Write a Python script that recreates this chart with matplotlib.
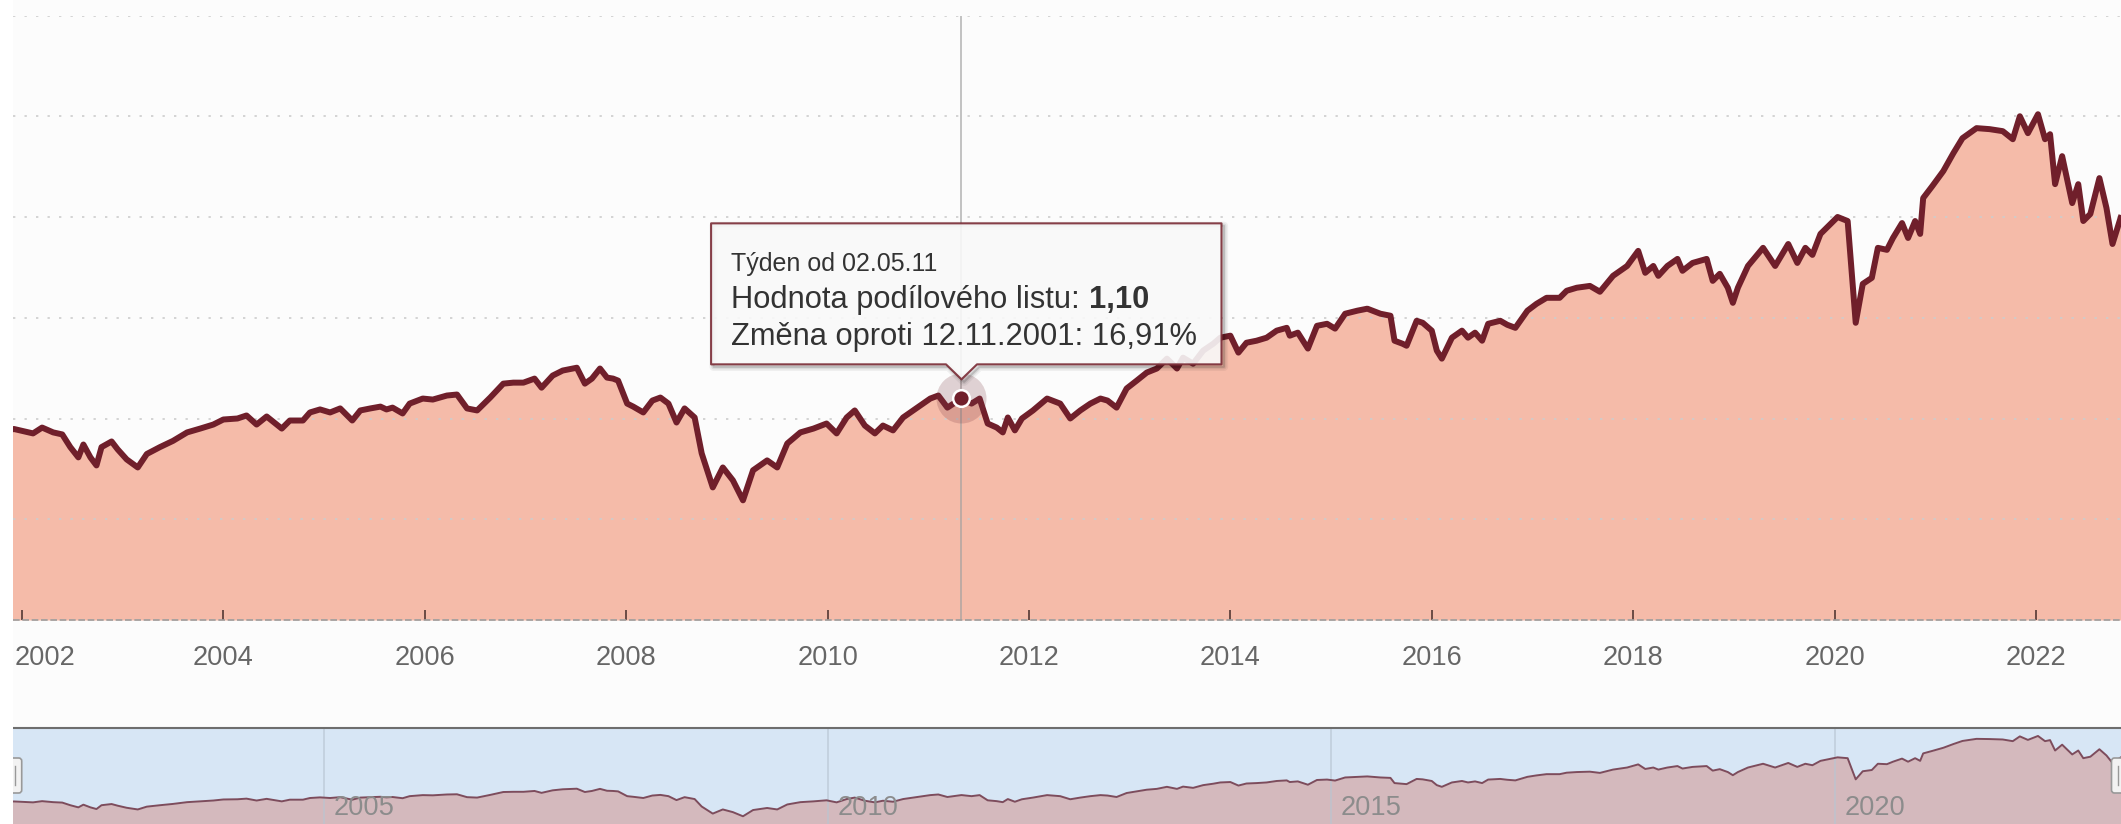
import numpy as np
import matplotlib
matplotlib.use('Agg')
import matplotlib.pyplot as plt
from matplotlib.patches import Polygon, FancyBboxPatch, Rectangle
from matplotlib.transforms import IdentityTransform, blended_transform_factory

plt.rcParams['font.family'] = ['Liberation Sans', 'DejaVu Sans']

# fund unit value (decimal years)
years = [2001.865, 2001.92, 2002.11, 2002.20, 2002.31, 2002.40, 2002.48, 2002.56, 2002.61, 2002.68,
         2002.74, 2002.79, 2002.89, 2002.95, 2003.04, 2003.15, 2003.24, 2003.37, 2003.50, 2003.64,
         2003.77, 2003.90, 2004.00, 2004.14, 2004.23, 2004.33, 2004.43, 2004.58, 2004.66, 2004.79,
         2004.86, 2004.96, 2005.06, 2005.16, 2005.28, 2005.36, 2005.46, 2005.56, 2005.62, 2005.68,
         2005.78, 2005.85, 2005.98, 2006.08, 2006.22, 2006.32, 2006.42, 2006.52, 2006.65, 2006.78,
         2006.88, 2006.98, 2007.09, 2007.16, 2007.27, 2007.37, 2007.51, 2007.59, 2007.66, 2007.74,
         2007.81, 2007.87, 2007.92, 2008.01, 2008.07, 2008.17, 2008.26, 2008.34, 2008.42, 2008.50,
         2008.58, 2008.68, 2008.75, 2008.86, 2008.96, 2009.06, 2009.16, 2009.26, 2009.40, 2009.50,
         2009.60, 2009.73, 2009.86, 2009.99, 2010.09, 2010.19, 2010.27, 2010.37, 2010.47, 2010.55,
         2010.65, 2010.75, 2010.89, 2011.02, 2011.10, 2011.19, 2011.33, 2011.43, 2011.51, 2011.59,
         2011.68, 2011.74, 2011.79, 2011.86, 2011.93, 2012.04, 2012.18, 2012.31, 2012.41, 2012.51,
         2012.61, 2012.71, 2012.78, 2012.87, 2012.97, 2013.07, 2013.17, 2013.27, 2013.37, 2013.47,
         2013.53, 2013.63, 2013.73, 2013.83, 2013.90, 2014.00, 2014.08, 2014.16, 2014.26, 2014.36,
         2014.46, 2014.56, 2014.59, 2014.67, 2014.77, 2014.86, 2014.96, 2015.04, 2015.14, 2015.26,
         2015.36, 2015.49, 2015.59, 2015.63, 2015.71, 2015.75, 2015.85, 2015.91, 2016.00, 2016.05,
         2016.10, 2016.20, 2016.30, 2016.36, 2016.43, 2016.50, 2016.56, 2016.68, 2016.75, 2016.83,
         2016.95, 2017.04, 2017.14, 2017.27, 2017.34, 2017.44, 2017.57, 2017.67, 2017.80, 2017.94,
         2018.05, 2018.12, 2018.20, 2018.25, 2018.34, 2018.44, 2018.49, 2018.59, 2018.73, 2018.79,
         2018.86, 2018.94, 2018.99, 2019.04, 2019.14, 2019.29, 2019.41, 2019.54, 2019.63, 2019.71,
         2019.78, 2019.86, 2020.03, 2020.13, 2020.21, 2020.28, 2020.37, 2020.43, 2020.52, 2020.58,
         2020.67, 2020.73, 2020.80, 2020.85, 2020.88, 2020.97, 2021.08, 2021.18, 2021.27, 2021.41,
         2021.54, 2021.67, 2021.77, 2021.84, 2021.92, 2022.02, 2022.09, 2022.14, 2022.19, 2022.26,
         2022.36, 2022.42, 2022.47, 2022.54, 2022.63, 2022.70, 2022.76, 2022.84]
values = [0.941, 0.948, 0.926, 0.955, 0.931, 0.921, 0.858, 0.807, 0.871, 0.807,
          0.767, 0.858, 0.886, 0.847, 0.797, 0.757, 0.824, 0.858, 0.889, 0.931,
          0.950, 0.970, 0.995, 1.000, 1.015, 0.970, 1.010, 0.950, 0.990, 0.990,
          1.030, 1.045, 1.030, 1.050, 0.990, 1.040, 1.050, 1.059, 1.045, 1.054,
          1.025, 1.074, 1.099, 1.094, 1.114, 1.119, 1.050, 1.040, 1.104, 1.173,
          1.178, 1.178, 1.198, 1.153, 1.213, 1.238, 1.252, 1.173, 1.198, 1.248,
          1.203, 1.198, 1.188, 1.074, 1.059, 1.030, 1.089, 1.104, 1.074, 0.980,
          1.050, 1.005, 0.827, 0.658, 0.757, 0.693, 0.594, 0.743, 0.792, 0.757,
          0.876, 0.931, 0.950, 0.975, 0.926, 1.005, 1.040, 0.965, 0.926, 0.965,
          0.941, 1.005, 1.054, 1.099, 1.114, 1.054, 1.100, 1.074, 1.099, 0.975,
          0.955, 0.931, 1.005, 0.941, 1.000, 1.040, 1.099, 1.074, 1.000, 1.040,
          1.074, 1.099, 1.089, 1.054, 1.149, 1.188, 1.228, 1.248, 1.297, 1.248,
          1.302, 1.272, 1.337, 1.371, 1.401, 1.411, 1.327, 1.376, 1.386, 1.401,
          1.436, 1.450, 1.411, 1.426, 1.347, 1.460, 1.470, 1.446, 1.520, 1.535,
          1.545, 1.520, 1.510, 1.386, 1.371, 1.361, 1.485, 1.475, 1.436, 1.337,
          1.297, 1.401, 1.436, 1.401, 1.426, 1.386, 1.470, 1.485, 1.465, 1.450,
          1.535, 1.569, 1.599, 1.599, 1.634, 1.649, 1.658, 1.629, 1.708, 1.757,
          1.832, 1.723, 1.757, 1.708, 1.757, 1.792, 1.733, 1.772, 1.792, 1.683,
          1.718, 1.649, 1.574, 1.649, 1.757, 1.847, 1.757, 1.866, 1.772, 1.847,
          1.812, 1.916, 2.000, 1.980, 1.475, 1.668, 1.698, 1.847, 1.837, 1.896,
          1.970, 1.896, 1.980, 1.916, 2.094, 2.153, 2.228, 2.317, 2.391, 2.441,
          2.436, 2.426, 2.386, 2.500, 2.416, 2.510, 2.386, 2.411, 2.163, 2.302,
          2.069, 2.163, 1.980, 2.015, 2.193, 2.045, 1.866, 1.995]

tick_years = list(range(2002, 2023, 2))
nav_years = [2005, 2010, 2015, 2020]
grid_levels = [0.5, 1.0, 1.5, 2.0, 2.5, 3.0]

hover_year = 2011.33
tip_header = 'Týden od 02.05.11'
tip_label = 'Hodnota podílového listu:'
tip_value = '1,10'
tip_change = 'Změna oproti 12.11.2001: 16,91%'

years = np.array(years)
values = np.array(values)

W, H = 2121, 824
fig = plt.figure(figsize=(W / 100, H / 100), dpi=100, facecolor='#fcfcfc')
left = 12.7
px_per_year = 100.7
xlim = (2001.908, 2001.908 + (W - left) / px_per_year)

# main chart
ax = fig.add_axes([left / W, (H - 620) / H, (W - left) / W, (620 - 15.5) / H])
ax.set_facecolor('#fcfcfc')
ax.fill_between(years, values, 0, color='#f5bba9', lw=0, zorder=1)
ax.plot(years, values, color='#701f2b', lw=4.3, solid_joinstyle='round', zorder=3)
ax.set_xlim(xlim)
ax.set_ylim(0, 3.0)
ax.set_axisbelow(False)
ax.set_yticks(grid_levels)
ax.yaxis.grid(True, color='#cdcdcd', lw=1.2, linestyle=(0, (1.4, 5.5)))
ax.tick_params(axis='y', left=False, labelleft=False)
ax.set_xticks(tick_years)
ax.set_xticklabels([])
ax.tick_params(axis='x', direction='in', length=7.2, width=1.4, color='#6b4a45')
for s in ax.spines.values():
    s.set_visible(False)
ax.axhline(0, color='#9d9d9d', lw=1.2, ls=(0, (4, 1.6)), zorder=2.6, clip_on=False)

bt = blended_transform_factory(ax.transData, ax.transAxes)
for i, y in enumerate(tick_years):
    if i == 0:
        ax.text(xlim[0] + 1.5 / px_per_year, -0.0744, str(y), transform=bt, ha='left',
                va='baseline', fontsize=19.6, color='#666666')
    else:
        ax.text(y, -0.0744, str(y), transform=bt, ha='center', va='baseline',
                fontsize=19.6, color='#666666')

# crosshair + hovered point
hi = int(np.argmin(np.abs(years - hover_year)))
hx, hv = years[hi], values[hi]
ax.axvline(hx, color='#a0a0a0', lw=1.1, alpha=0.8, zorder=2.7)
ax.plot(hx, hv, 'o', ms=36, color='#7a3a42', alpha=0.22, mec='none', zorder=4)
ax.plot(hx, hv, 'o', ms=12, mfc='#701f2b', mec='white', mew=1.8, zorder=5)

# navigator
ax2 = fig.add_axes([left / W, 0, (W - left) / W, 96 / H])
ax2.set_facecolor('#d7e6f5')
ax2.fill_between(years, values, 0, color='#d4b9bd', lw=0, zorder=1)
ax2.plot(years, values, color='#7d4c5c', lw=1.4, zorder=3)
ax2.set_xlim(xlim)
ax2.set_ylim(0.41, 2.70)
ax2.set_xticks([])
ax2.set_yticks([])
for name, s in ax2.spines.items():
    s.set_visible(name == 'top')
ax2.spines['top'].set_color('#6e6e6e')
ax2.spines['top'].set_linewidth(1.5)
bt2 = blended_transform_factory(ax2.transData, ax2.transAxes)
for y in nav_years:
    ax2.axvline(y, color='#b8c5d2', lw=1.2, alpha=0.7, zorder=2)
    ax2.text(y + 10 / px_per_year, 0.094, str(y), transform=bt2, ha='left', va='baseline',
             fontsize=19.6, color='#8c8c8c', zorder=4)

idt = IdentityTransform()
for hx0 in (left, W - 0.5):
    h = FancyBboxPatch((hx0 - 9, H - 793), 18, 35, boxstyle='round,pad=0,rounding_size=3',
                       fc='#f2f2f2', ec='#999999', lw=1.2, transform=idt, zorder=1)
    fig.add_artist(h)
    for gx in (-2.5, 2.5):
        fig.add_artist(plt.Line2D([hx0 + gx, hx0 + gx], [H - 785, H - 766], color='#999999',
                                  lw=1, transform=idt, zorder=1.1))
fig.add_artist(Rectangle((0, 0), left, H, fc='white', ec='none', transform=idt, zorder=1.5))

# tooltip
fig.canvas.draw()
px, py = ax.transData.transform((hx, hv))
tip_y = py + 19
B = tip_y + 15
T = B + 141
L = px - 250.4
R = px + 260
verts = [(L, B), (px - 15.5, B), (px, tip_y), (px + 15.5, B), (R, B), (R, T), (L, T)]
for off, lw, a in ((2.5, 6, 0.05), (2.5, 3.5, 0.08), (2.5, 1.5, 0.14)):
    sh = Polygon([(x + off, y - off) for x, y in verts], closed=True, fc='none',
                 ec='black', lw=lw, alpha=a, transform=idt, zorder=5, joinstyle='round')
    fig.add_artist(sh)
box = Polygon(verts, closed=True, fc='#f9f9f9', ec='#7a2b35', lw=1.5, alpha=0.9,
              transform=idt, zorder=6, joinstyle='round')
fig.add_artist(box)

tx = L + 20.4
fig.text(tx, T - 48, tip_header, transform=idt, fontsize=18, color='#333333',
         va='baseline', zorder=7)
t2 = fig.text(tx, T - 85, tip_label, transform=idt, fontsize=22.2, color='#333333',
              va='baseline', zorder=7)
r = fig.canvas.get_renderer()
w2 = t2.get_window_extent(renderer=r).width
fig.text(tx + w2 + 8.6, T - 85, tip_value, transform=idt, fontsize=22.2, color='#333333',
         fontweight='bold', va='baseline', zorder=7)
fig.text(tx, T - 122, tip_change, transform=idt, fontsize=22.2, color='#333333',
         va='baseline', zorder=7)

plt.savefig('out.png', dpi=100, facecolor=fig.get_facecolor())
